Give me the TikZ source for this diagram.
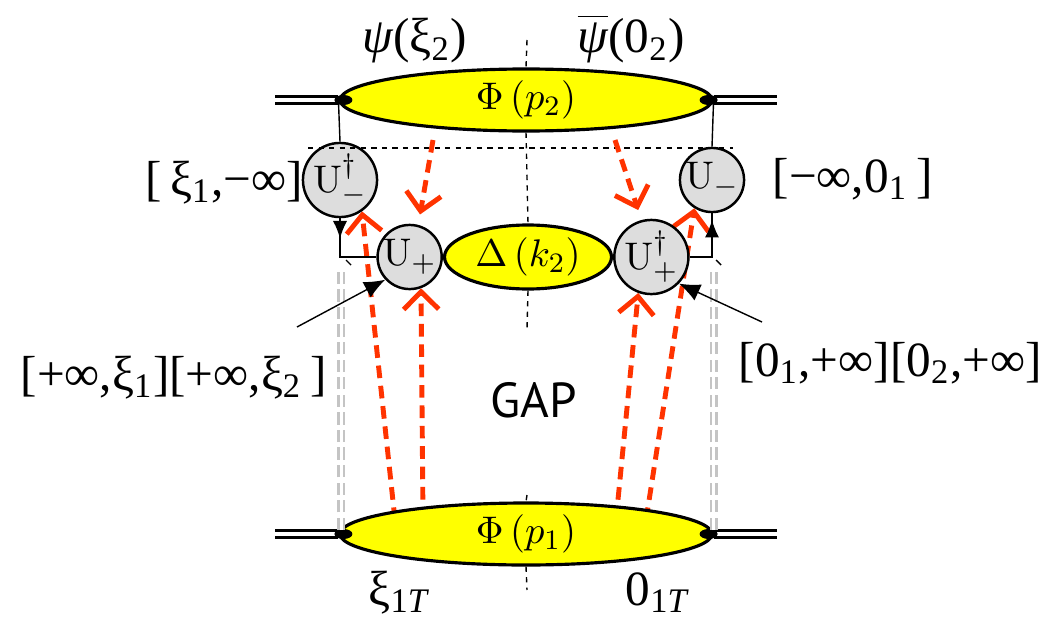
\documentclass[tikz,border=0pt]{standalone}
\usepackage{amsmath,amssymb}
\usepackage[no-math]{fontspec}
\usepackage{tikz}
\usetikzlibrary{arrows.meta,positioning,shapes.geometric,calc,backgrounds,decorations.markings}
\newfontfamily\tnrfont{Liberation Serif}
\newfontfamily\gapfont{PT Sans}
\definecolor{blobyellow}{HTML}{FFFF00}
\definecolor{linkred}{HTML}{FF3300}
\definecolor{linkgray}{HTML}{DDDDDD}
\definecolor{ghostgray}{HTML}{C4C4C4}

\begin{document}
\begin{tikzpicture}[
  >=Latex,
  blob/.style={ellipse, draw=black, line width=0.9pt, fill=blobyellow, inner sep=0pt, font=\fontsize{11}{12}\selectfont},
  wilson/.style={circle, draw=black, line width=0.7pt, fill=linkgray, minimum size=0.64cm, inner sep=0pt, font=\fontsize{11}{12}\selectfont},
  hadron/.style={double, line width=0.85pt, double distance=1.1pt},
  gluon/.style={-{Straight Barb[length=5pt,width=10pt]}, draw=linkred, line width=1.4pt, dash pattern=on 3.6pt off 2.2pt},
  ghost/.style={draw=ghostgray, double=white, line width=0.7pt, double distance=0.9pt, dash pattern=on 3.5pt off 1.5pt},
  cutline/.style={dashed, line width=0.4pt, dash pattern=on 1.5pt off 1.5pt},
  bracket/.style={font=\tnrfont\fontsize{14}{16}\selectfont, inner sep=0pt}
]
  \useasboundingbox (0,0) rectangle (10.6,6.23);

  % Blobs and links
  \node[blob, minimum width=3.72cm, minimum height=0.62cm] (phitop) at (5.26,5.23) {$\Phi\,(p_2)$};
  \node[blob, minimum width=3.72cm, minimum height=0.62cm] (phibot) at (5.26,0.89) {$\Phi\,(p_1)$};
  \node[blob, minimum width=1.67cm, minimum height=0.64cm] (delta) at (5.28,3.66) {$\Delta\,(k_2)$};
  \node[wilson] (umdag) at (3.40,4.43) {$\mathrm{U}^{\dagger}_{-}$};
  \node[wilson] (umin) at (7.12,4.43) {$\mathrm{U}_{-}$};
  \node[wilson, left=0pt of delta] (uplus) {$\mathrm{U}_{+}$};
  \node[wilson, right=0pt of delta] (updag) {$\mathrm{U}^{\dagger}_{+}$};

  % Hadron lines
  \draw[hadron] (phitop.west) -- ++(-0.63,0);
  \draw[hadron] (phitop.east) -- ++(0.63,0);
  \draw[hadron] (phibot.west) -- ++(-0.63,0);
  \draw[hadron] (phibot.east) -- ++(0.63,0);
  \foreach \n in {phitop,phibot} {
    \fill (\n.west) ++(0.05,0) ellipse [x radius=0.09, y radius=0.05];
    \fill (\n.east) ++(-0.05,0) ellipse [x radius=0.09, y radius=0.05];
  }

  % Cut
  \draw[cutline] (5.27,5.83) -- (phitop.north);
  \draw[cutline] (phitop.south) -- (delta.north);
  \draw[cutline] (delta.south) -- (5.27,2.93);
  \draw[cutline] (5.27,1.28) -- (phibot.north);
  \draw[cutline] (phibot.south) -- (5.27,0.33);
  \draw[cutline] (3.08,4.75) -- (7.33,4.75);

  % Gauge links
  \draw (phitop.west) -- (umdag.north);
  \draw (phitop.east) -- (umin.north);
  \draw[postaction={decorate}, decoration={markings, mark=at position 0.27 with {\arrow{Latex[length=5pt,width=4pt]}}}] (umdag.south) |- (uplus.west);
  \draw[postaction={decorate}, decoration={markings, mark=at position 0.9 with {\arrow{Latex[length=5pt,width=4pt]}}}] (updag.east) -| (umin.south);
  \draw (3.46,3.63) -- (3.51,3.58);
  \draw (7.16,3.63) -- (7.21,3.58);
  \draw[ghost] (phibot.west) ++(0.03,0.04) -- ++(0,2.62);
  \draw[ghost] (phibot.east) ++(0,0.04) -- ++(0,2.62);

  % Gluon exchanges
  \coordinate (gt1) at (4.33,4.83);
  \coordinate (gt2) at (6.15,4.83);
  \coordinate (gb1) at (3.95,1.03);
  \coordinate (gb2) at (4.23,1.03);
  \coordinate (gb3) at (6.16,1.03);
  \coordinate (gb4) at (6.46,1.03);
  \draw[gluon, shorten >=3pt] (gt1) -- (uplus.75);
  \draw[gluon, shorten >=3pt] (gt2) -- (updag.105);
  \begin{scope}[on background layer]
    \draw[gluon] (gb1) -- (umdag.-55);
    \draw[gluon] (gb2) -- (uplus.-70);
    \draw[gluon] (gb3) -- (updag.-110);
    \draw[gluon] (gb4) -- (umin.-122);
  \end{scope}

  % Labels
  \node[bracket, anchor=base west] (psi) at (3.62,5.70) {{\itshape ψ}(ξ\textsubscript{2})};
  \node[bracket, anchor=base west] (psibar) at (5.77,5.70) {$\overline{\hbox{\tnrfont\itshape ψ}}$(0\textsubscript{2})};
  \node[bracket, anchor=base west] (linkl) at (1.45,4.28) {[\,ξ\textsubscript{1},−∞]};
  \node[bracket, anchor=base west] (linkr) at (7.72,4.31) {[−∞,0\textsubscript{1}\,]};
  \node[bracket, anchor=base west] (plusl) at (0.20,2.33) {[+∞,ξ\textsubscript{1}][+∞,ξ\textsubscript{2}\,]};
  \node[bracket, anchor=base west] (plusr) at (7.38,2.47) {[0\textsubscript{1},+∞][0\textsubscript{2},+∞]};
  \node[font=\gapfont\fontsize{14}{16}\selectfont] (gap) at (5.34,2.23) {GAP};
  \node[bracket, anchor=base west] (xit) at (3.68,0.18) {ξ\textsubscript{1\textit{T}}};
  \node[bracket, anchor=base west] (zerot) at (6.25,0.18) {0\textsubscript{1\textit{T}}};

  % Pointers
  \coordinate (pl) at (2.97,2.96);
  \coordinate (pr) at (7.62,3.01);
  \draw[-{Latex[length=6pt,width=5pt]}] (pl) -- (uplus.-137);
  \draw[-{Latex[length=6pt,width=5pt]}] (pr) -- (updag.-44);
\end{tikzpicture}
\end{document}
